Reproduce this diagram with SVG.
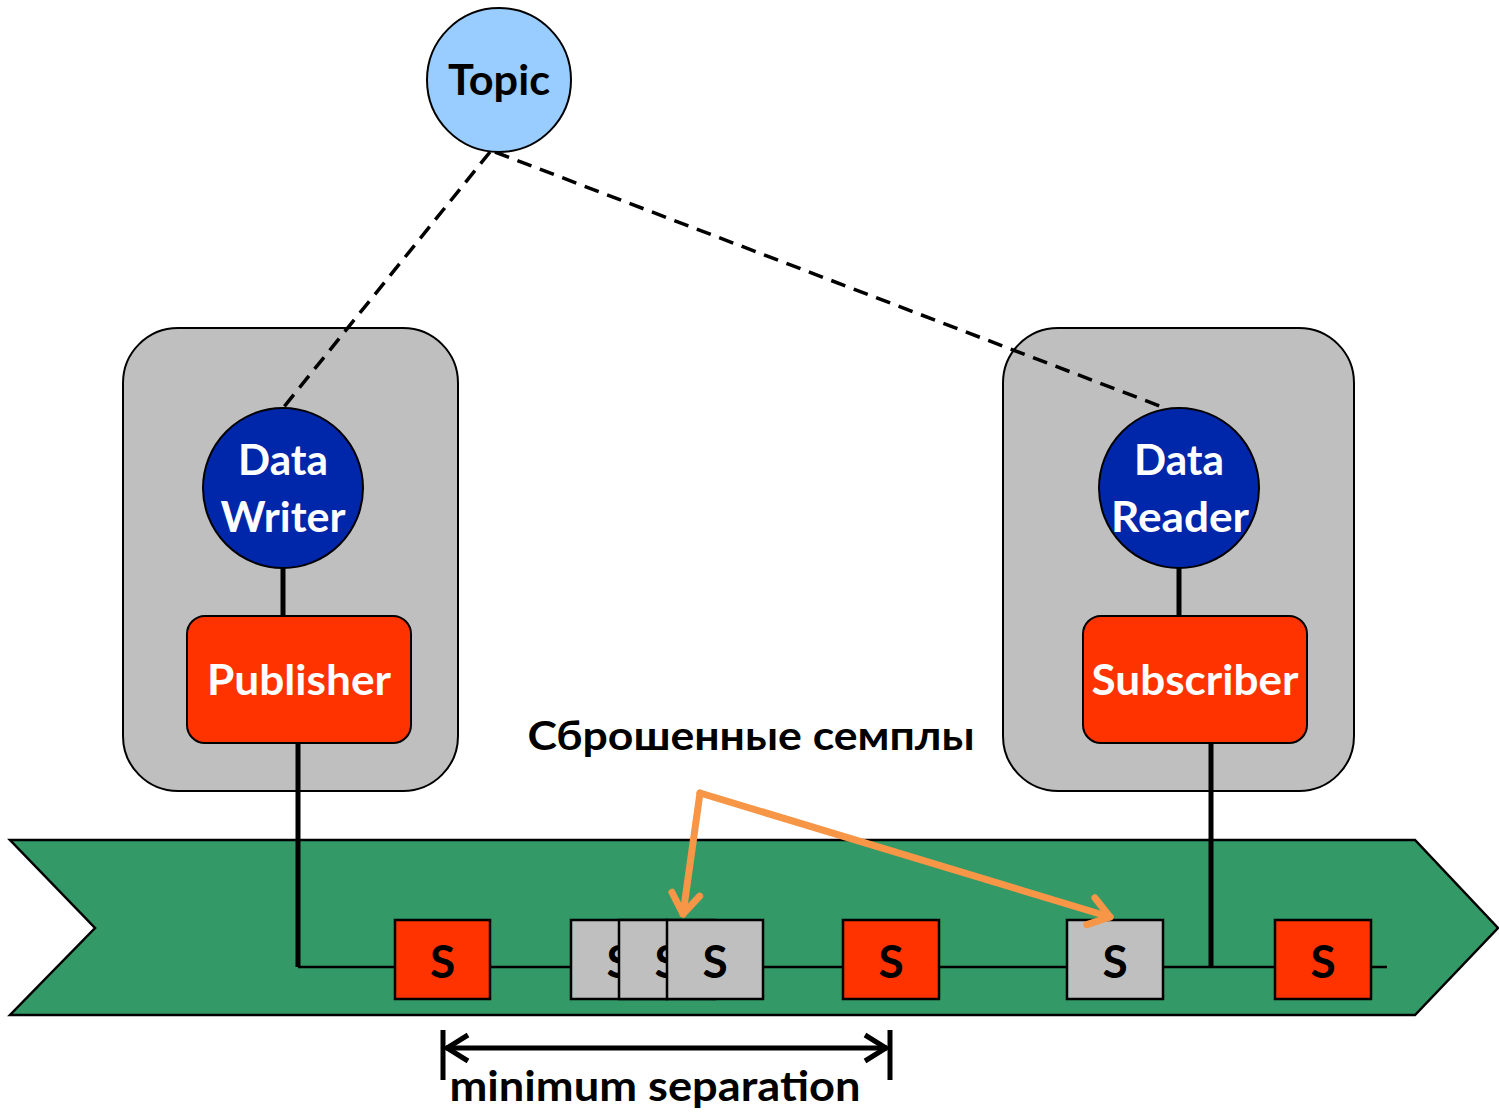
<svg xmlns="http://www.w3.org/2000/svg" width="1499" height="1113" viewBox="0 0 1499 1113">
<style>
.t{font-family:Lato,"Open Sans","Liberation Sans",sans-serif;font-weight:bold;text-anchor:middle}
.w{fill:#fff}
.k{fill:#000}
.box{stroke:#000;stroke-width:2.5}
.red{fill:#FF3300}
.gray{fill:#BFBFBF}
.cont{fill:#BFBFBF;stroke:#000;stroke-width:2}
.circ{fill:#0026AA;stroke:#000;stroke-width:2}
</style>
<defs>
<marker id="oa" markerUnits="userSpaceOnUse" markerWidth="40" markerHeight="40" viewBox="-25 -20 30 40" refX="0" refY="0" orient="auto">
<path d="M-20,-14 L0,0 L-20,14" fill="none" stroke="#F79646" stroke-width="7" stroke-linecap="round" stroke-linejoin="round"/>
</marker>
</defs>
<rect width="1499" height="1113" fill="#fff"/>
<g id="containers">
<rect class="cont" x="123" y="328" width="335" height="463" rx="55"/>
<rect class="cont" x="1003" y="328" width="351" height="463" rx="55"/>
</g>
<g id="connectors" fill="none" stroke="#000">
<line x1="490" y1="152" x2="283" y2="408" stroke-width="3.5" stroke-dasharray="15,9"/>
<line x1="495" y1="152" x2="1165" y2="408" stroke-width="3.5" stroke-dasharray="15,9"/>
<line x1="283" y1="568" x2="283" y2="616" stroke-width="5"/>
<line x1="1179" y1="568" x2="1179" y2="616" stroke-width="5"/>
</g>
<g id="banner">
<polygon points="10,840 1415,840 1498,928 1415,1015 10,1015 95,928" fill="#339966" stroke="#000" stroke-width="2.5"/>
</g>
<g id="wires" fill="none" stroke="#000">
<line x1="298" y1="967" x2="1387" y2="967" stroke-width="2.5"/>
<polyline points="298,743 298,967" stroke-width="5"/>
<line x1="1211" y1="743" x2="1211" y2="967" stroke-width="5"/>
</g>
<g id="topic">
<circle cx="499" cy="80" r="72" fill="#99CCFF" stroke="#000" stroke-width="2"/>
<text class="t k" x="499" y="95" font-size="42" textLength="102" lengthAdjust="spacingAndGlyphs">Topic</text>
</g>
<g id="writer">
<circle class="circ" cx="283" cy="488" r="80"/>
<text class="t w" x="283" y="475" font-size="42" textLength="90" lengthAdjust="spacingAndGlyphs">Data</text>
<text class="t w" x="283" y="532" font-size="42" textLength="125" lengthAdjust="spacingAndGlyphs">Writer</text>
</g>
<g id="reader">
<circle class="circ" cx="1179" cy="488" r="80"/>
<text class="t w" x="1179" y="475" font-size="42" textLength="90" lengthAdjust="spacingAndGlyphs">Data</text>
<text class="t w" x="1180" y="532" font-size="42" textLength="138" lengthAdjust="spacingAndGlyphs">Reader</text>
</g>
<g id="publisher">
<rect class="red" x="187" y="616" width="224" height="127" rx="18" stroke="#000" stroke-width="2"/>
<text class="t w" x="299" y="695" font-size="42" textLength="184" lengthAdjust="spacingAndGlyphs">Publisher</text>
</g>
<g id="subscriber">
<rect class="red" x="1083" y="616" width="224" height="127" rx="18" stroke="#000" stroke-width="2"/>
<text class="t w" x="1195" y="695" font-size="42" textLength="207" lengthAdjust="spacingAndGlyphs">Subscriber</text>
</g>
<g id="samples">
<rect class="box red" x="395" y="920" width="95" height="79"/>
<text class="t k" x="442.5" y="978" font-size="46">S</text>
<rect class="box gray" x="571" y="920" width="96" height="79"/>
<text class="t k" x="619" y="978" font-size="46">S</text>
<rect class="box gray" x="619" y="920" width="96" height="79"/>
<text class="t k" x="667" y="978" font-size="46">S</text>
<rect class="box gray" x="667" y="920" width="96" height="79"/>
<text class="t k" x="715" y="978" font-size="46">S</text>
<rect class="box red" x="843" y="920" width="96" height="79"/>
<text class="t k" x="891" y="978" font-size="46">S</text>
<rect class="box gray" x="1067" y="920" width="96" height="79"/>
<text class="t k" x="1115" y="978" font-size="46">S</text>
<rect class="box red" x="1275" y="920" width="96" height="79"/>
<text class="t k" x="1323" y="978" font-size="46">S</text>
</g>
<g id="dropped-label">
<text class="t k" x="751" y="750" font-size="40" textLength="447" lengthAdjust="spacingAndGlyphs">Сброшенные семплы</text>
</g>
<g id="dropped-arrows" fill="none" stroke="#F79646" stroke-width="7" stroke-linecap="round" stroke-linejoin="round">
<line x1="700" y1="793" x2="683" y2="914" marker-end="url(#oa)"/>
<line x1="700" y1="793" x2="1110" y2="917" marker-end="url(#oa)"/>
</g>
<g id="min-separation">
<g fill="none" stroke="#000" stroke-width="5">
<line x1="443" y1="1030" x2="443" y2="1080"/>
<line x1="890" y1="1030" x2="890" y2="1080"/>
<line x1="446" y1="1048" x2="887" y2="1048"/>
<polyline points="468,1035 447,1048 468,1061"/>
<polyline points="865,1035 886,1048 865,1061"/>
</g>
<text class="t k" x="655" y="1101" font-size="42" textLength="411" lengthAdjust="spacingAndGlyphs">minimum separation</text>
</g>
</svg>
